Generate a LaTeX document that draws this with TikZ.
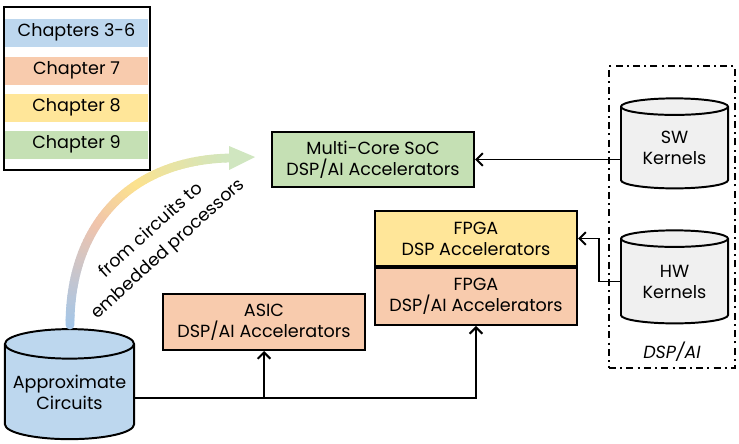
\documentclass[tikz,border=0pt]{standalone}
\usepackage{fontspec}
\setmainfont{Poppins}
\usetikzlibrary{arrows.meta, positioning, shapes.geometric}

\definecolor{chblue}{HTML}{BDD7EE}
\definecolor{chorange}{HTML}{F8CBAD}
\definecolor{chyellow}{HTML}{FFE699}
\definecolor{chgreen}{HTML}{C5E0B4}
\definecolor{kgray}{HTML}{F0F0F0}
\definecolor{arcblue}{RGB}{165,198,232}
\definecolor{arcorange}{RGB}{240,196,172}
\definecolor{arcyellow}{RGB}{252,226,142}
\definecolor{arcgreen}{RGB}{208,230,192}

\begin{document}
\begin{tikzpicture}[x=0.025cm, y=-0.025cm, font=\fontsize{12.5}{15}\selectfont,
  >={Straight Barb[length=1.6mm, width=3.2mm]},
  accel/.style = {draw, line width=1.4pt, minimum width=5.05cm,
                  minimum height=1.375cm, align=center, inner sep=0pt},
  store/.style = {draw, line width=1.4pt, cylinder, shape border rotate=90,
                  shape aspect=0.26, align=center, inner sep=0pt},
  legend/.style = {fill=#1, minimum width=3.575cm, minimum height=0.7cm, inner sep=0pt},
  link/.style  = {line width=1.4pt}
]
  \useasboundingbox (0,0) rectangle (739,443);

  %% legend
  \draw[line width=1pt] (4,7) rectangle (150,170);
  \node[legend=chblue]   (lch36) at (76.5,32.5)  {Chapters 3-6};
  \node[legend=chorange] (lch7)  at (76.5,70.5)  {Chapter 7};
  \node[legend=chyellow] (lch8)  at (76.5,107.5) {Chapter 8};
  \node[legend=chgreen]  (lch9)  at (76.5,144.5) {Chapter 9};

  %% accelerators
  \node[accel, fill=chgreen]  (soc)     at (373,159.5) {Multi-Core SoC\\DSP/AI Accelerators};
  \node[accel, fill=chyellow] (fpgadsp) at (476,238.5) {FPGA\\DSP Accelerators};
  \node[accel, fill=chorange, minimum height=1.425cm, below=0pt of fpgadsp] (fpgaai) {FPGA\\DSP/AI Accelerators};
  \node[accel, fill=chorange, minimum height=1.4cm] (asic) at (264,322) {ASIC\\DSP/AI Accelerators};

  %% storage
  \node[store, fill=chblue, minimum width=3.225cm, minimum height=2.75cm] (approx) at (69.5,392) {Approximate\\Circuits};
  \node[store, fill=kgray, minimum width=2.675cm, minimum height=2.25cm] (sw) at (674.5,148) {SW\\Kernels};
  \node[store, fill=kgray, minimum width=2.675cm, minimum height=2.325cm] (hw) at (674.5,281.5) {HW\\Kernels};

  %% DSP/AI frame
  \node[draw, line width=1.4pt, dash pattern=on 5pt off 3pt on 1.4pt off 3pt,
        minimum width=3.15cm, minimum height=7.55cm] (kframe) at (672,217) {};
  \node[font=\fontsize{12.5}{15}\selectfont\itshape] (dspai) at (672,352) {DSP/AI};

  %% connectors
  \draw[link, ->] (soc.east -| sw.west) -- (soc.east);
  \draw[link, ->] (hw.west) -- ++(-21,0) |- (fpgadsp.east);
  \draw[link, ->] ([yshift=-0.15cm]approx.east) -| (asic.south);
  \draw[link, ->] ([yshift=-0.15cm]approx.east) -| (fpgaai.south);

  %% gradient arc
  \foreach \i in {0,...,59}{
    \pgfmathsetmacro\ta{\i/60}
    \pgfmathsetmacro\tb{(\i+1)/60}
    \pgfmathsetmacro\xa{(1-\ta)^3*70+3*(1-\ta)^2*\ta*70+3*(1-\ta)*\ta^2*130+\ta^3*230}
    \pgfmathsetmacro\ya{(1-\ta)^3*325+3*(1-\ta)^2*\ta*225+3*(1-\ta)*\ta^2*160+\ta^3*158}
    \pgfmathsetmacro\xb{(1-\tb)^3*70+3*(1-\tb)^2*\tb*70+3*(1-\tb)*\tb^2*130+\tb^3*230}
    \pgfmathsetmacro\yb{(1-\tb)^3*325+3*(1-\tb)^2*\tb*225+3*(1-\tb)*\tb^2*160+\tb^3*158}
    \ifnum\i<24
      \pgfmathsetmacro\p{100-100*\i/24}\colorlet{arcc}{arcblue!\p!arcorange}
    \else\ifnum\i<38
      \pgfmathsetmacro\p{100-100*(\i-24)/14}\colorlet{arcc}{arcorange!\p!arcyellow}
    \else
      \pgfmathsetmacro\p{100-100*(\i-38)/22}\colorlet{arcc}{arcyellow!\p!arcgreen}
    \fi\fi
    \draw[arcc, line width=0.22cm, line cap=round] (\xa,\ya) -- (\xb,\yb);
  }
  \fill[arcgreen] (229,146) -- (255,157) -- (229,170) -- cycle;
  \node[rotate=42, align=center, inner sep=0pt] (arclbl) at (160,240) {from circuits to\\[3pt]embedded processors};
\end{tikzpicture}
\end{document}
